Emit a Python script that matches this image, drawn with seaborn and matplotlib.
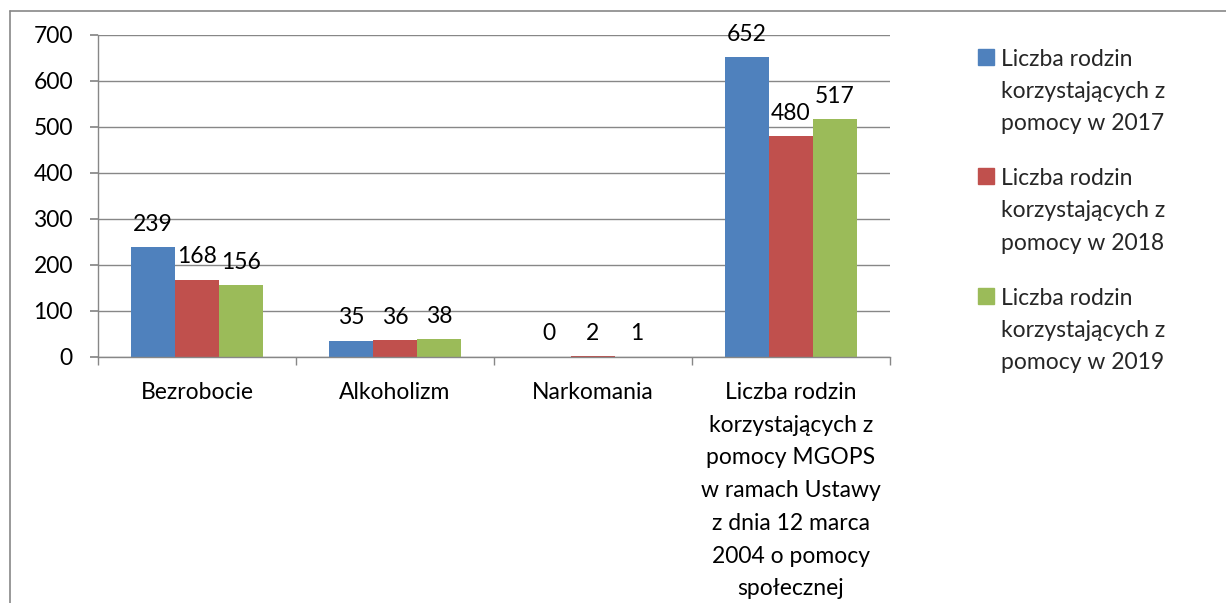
import pandas as pd
import numpy as np

import matplotlib.pyplot as plt
import seaborn as sns
from matplotlib.lines import Line2D
from matplotlib.ticker import FixedLocator


sns.set_theme(style="white")
plt.rcParams["font.family"] = ["Lato", "DejaVu Sans"]

categories = [
    "Bezrobocie",
    "Alkoholizm",
    "Narkomania",
    "Liczba rodzin\nkorzystających z\npomocy MGOPS\nw ramach Ustawy\nz dnia 12 marca\n2004 o pomocy\nspołecznej",
]
series = [
    "Liczba rodzin\nkorzystających z\npomocy w 2017",
    "Liczba rodzin\nkorzystających z\npomocy w 2018",
    "Liczba rodzin\nkorzystających z\npomocy w 2019",
]
v2017 = [239, 35, 0, 652]
v2018 = [168, 36, 2, 480]
v2019 = [156, 38, 1, 517]
colors = ["#4F81BD", "#C0504D", "#9BBB59"]

df = pd.DataFrame({
    "kategoria": categories * 3,
    "seria": [series[0]] * 4 + [series[1]] * 4 + [series[2]] * 4,
    "wartosc": v2017 + v2018 + v2019,
})

FS = 16.5

fig = plt.figure(figsize=(12.26, 6.03), dpi=100)
ax = fig.add_axes([0.0799, 0.408, 0.646, 0.534])

sns.barplot(data=df, x="kategoria", y="wartosc", hue="seria",
            palette=colors, width=0.664, saturation=1, linewidth=0,
            errorbar=None, ax=ax, legend=False)

for cont in ax.containers:
    ax.bar_label(cont, padding=9, fontsize=FS, color="black")

ax.set_xlim(-0.5, 3.5)
ax.set_ylim(0, 700)
ax.set_yticks(np.arange(0, 701, 100))
ax.grid(axis="y", color="#878787", linewidth=1)
ax.set_axisbelow(True)
ax.set_xlabel("")
ax.set_ylabel("")

for s in ["top", "right"]:
    ax.spines[s].set_visible(False)
for s in ["left", "bottom"]:
    ax.spines[s].set_color("#878787")
    ax.spines[s].set_linewidth(1)

ax.tick_params(axis="y", left=True, length=6, color="#878787",
               labelsize=FS, pad=12, labelcolor="black")
ax.tick_params(axis="x", which="major", bottom=False, labelsize=FS,
               pad=12, labelcolor="black")
ax.xaxis.set_minor_locator(FixedLocator(np.arange(-0.5, 4, 1)))
ax.tick_params(axis="x", which="minor", bottom=True, length=6,
               color="#878787", width=1)
for lab in ax.get_xticklabels():
    lab.set_linespacing(1.69)

handles = [plt.Rectangle((0, 0), 1, 1, color=c) for c in colors]
leg = fig.legend(handles, series, loc="upper left",
                 bbox_to_anchor=(0.781, 0.953), frameon=False, fontsize=FS,
                 handlelength=0.7, handleheight=0.7, handletextpad=0.3,
                 labelspacing=1.5)
for t in leg.get_texts():
    t.set_linespacing(1.65)
# kwadraty legendy na wysokości pierwszej linii
for col in leg._legend_handle_box.get_children():
    for item in col.get_children():
        item.align = "top"

# ramka wykresu
fig.add_artist(Line2D([0.008, 0.008], [0.0, 0.982], color="#878787", lw=1.2))
fig.add_artist(Line2D([0.008, 1.0], [0.982, 0.982], color="#878787", lw=1.2))

fig.savefig("out.png", dpi=100)
